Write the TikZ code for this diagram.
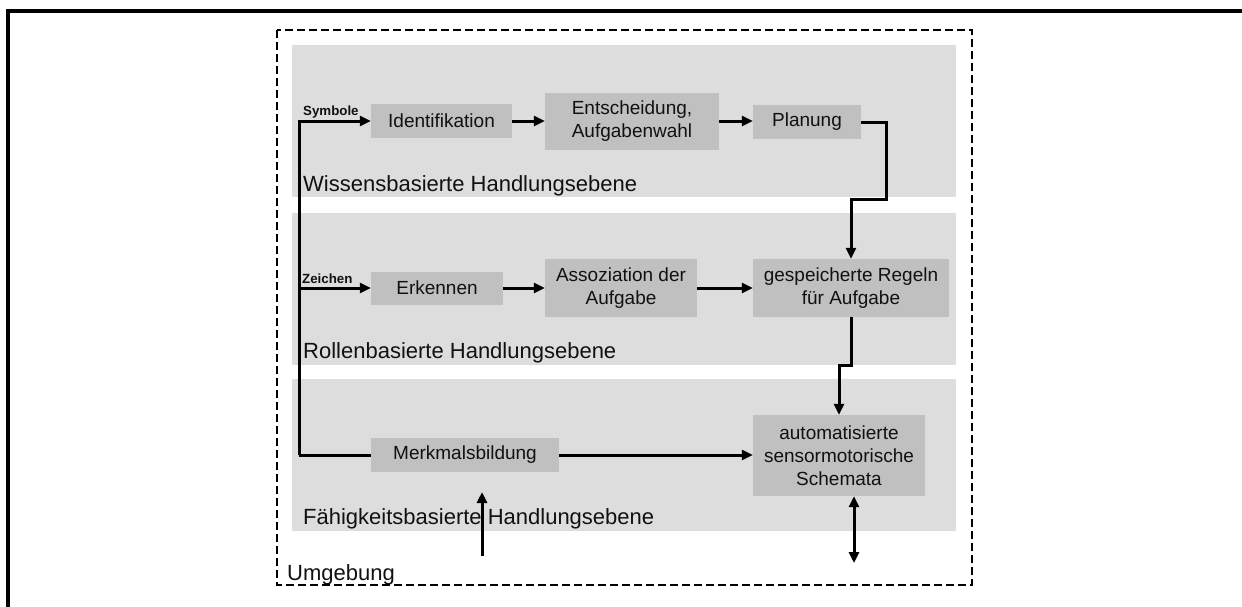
\documentclass[tikz,border=0pt]{standalone}
\usepackage{fontspec}
\setmainfont{Liberation Sans}
\usetikzlibrary{arrows.meta}
\definecolor{bandgray}{HTML}{DDDDDD}
\definecolor{boxgray}{HTML}{C0C0C0}
\definecolor{ink}{HTML}{111111}
\begin{document}
\begin{tikzpicture}[x=1pt,y=-1pt,
  band/.style={fill=bandgray, draw=none, minimum width=664pt, minimum height=152pt, inner sep=0pt},
  box/.style={fill=boxgray, draw=none, inner sep=0pt, align=center, text=ink,
    font=\fontsize{19}{23}\selectfont},
  flow/.style={line width=3pt, -{Triangle[length=11pt,width=10pt]}},
  plain/.style={line width=3pt},
  both/.style={line width=3pt, {Triangle[length=11pt,width=10pt]}-{Triangle[length=11pt,width=10pt]}},
  level/.style={anchor=base west, inner sep=0pt, text=ink, font=\fontsize{22}{26}\selectfont},
  tag/.style={anchor=base west, inner sep=0pt, text=ink, font=\bfseries\fontsize{13.3}{15}\selectfont}]

\useasboundingbox (0,0) rectangle (1242,606);
\clip (0,0) rectangle (1242,606);

% outer frame
\draw[line width=3.2pt] (8,640) -- (8,11) -- (1260,11);

% environment boundary
\draw[line width=2.4pt, dash pattern=on 8pt off 4pt] (277,30) rectangle (972,585);
\node[level] (umg) at (287,580) {Umgebung};

% three levels of action
\node[band] (b1) at (624,121) {};
\node[band] (b2) at (624,289) {};
\node[band] (b3) at (624,455) {};
\node[level] (l1) at (303,191) {Wissensbasierte Handlungsebene};
\node[level] (l2) at (303,358) {Rollenbasierte Handlungsebene};
\node[level] (l3) at (303,524) {Fähigkeitsbasierte Handlungsebene};

% process boxes
\node[box, minimum width=141pt, minimum height=34pt] (ident) at (441.5,121) {Identifikation};
\node[box, minimum width=174pt, minimum height=57pt] (entsch) at (632,121.5) {Entscheidung,\\Aufgabenwahl};
\node[box, minimum width=108pt, minimum height=34pt] (plan) at (807,122) {Planung};
\node[box, minimum width=132pt, minimum height=33pt] (erk) at (437,288) {Erkennen};
\node[box, minimum width=152pt, minimum height=58pt] (asso) at (621,288) {Assoziation der\\Aufgabe};
\node[box, minimum width=196pt, minimum height=58pt] (regeln) at (851,288) {gespeicherte Regeln\\für Aufgabe};
\node[box, minimum width=188pt, minimum height=34pt] (merk) at (465,455) {Merkmalsbildung};
\node[box, minimum width=172pt, minimum height=81pt] (auto) at (839,455.5) {automatisierte\\sensormotorische\\Schemata};

% signal labels
\node[tag] (sym) at (303,115) {Symbole};
\node[tag] (zei) at (302,283) {Zeichen};

% junction points
\coordinate (foot) at (299,455);
\coordinate (zj) at (299,288);
\coordinate (pj) at (886,199);
\coordinate (rj) at (851,365);
\coordinate (envin) at (482,556);
\coordinate (envout) at (854,563);

% connectors
\draw[plain] (merk.west) -- (foot);
\draw[flow] (foot) |- (ident.west);
\draw[flow] (zj) -- (erk.west);
\draw[flow] (ident.east) -- (entsch.west |- ident.east);
\draw[flow] (entsch.east |- ident.east) -- (plan.west |- ident.east);
\draw[flow] (plan.east) -| (pj) -| (regeln.north);
\draw[flow] (erk.east) -- (asso.west |- erk.east);
\draw[flow] (asso.east) -- (regeln.west);
\draw[flow] (regeln.south) -- (rj) -| (auto.north);
\draw[flow] (merk.east) -- (auto.west |- merk.east);
\draw[flow] (envin) -- ++(0,-64);
\draw[both] (auto.south -| envout) -- (envout);

\end{tikzpicture}
\end{document}
